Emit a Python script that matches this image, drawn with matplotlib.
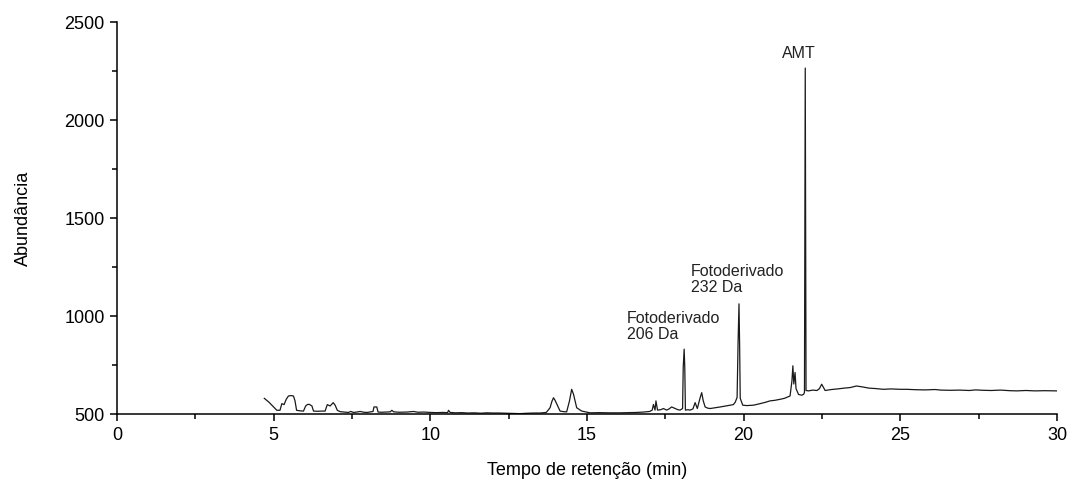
import matplotlib.pyplot as plt
from matplotlib.ticker import MultipleLocator

# chromatogram: retention time (min) and abundance
tempo = [
    4.70, 4.85, 5.00, 5.10, 5.20, 5.26, 5.33, 5.40, 5.47, 5.55, 5.63, 5.68, 5.73,
    5.85, 5.95, 6.02, 6.08, 6.14, 6.22, 6.27, 6.40, 6.55, 6.64, 6.71, 6.80, 6.90,
    6.96, 7.03, 7.12, 7.25, 7.38, 7.46, 7.55, 7.65, 7.76, 7.88, 7.98, 8.10, 8.17,
    8.20, 8.29, 8.33, 8.45, 8.60, 8.72, 8.77, 8.83, 9.00, 9.25, 9.46, 9.60, 9.80,
    9.99, 10.20, 10.40, 10.55, 10.58, 10.63, 10.80, 11.00, 11.20, 11.40, 11.60,
    11.80, 12.00, 12.20, 12.40, 12.60, 12.86, 13.10, 13.30, 13.50, 13.70, 13.82,
    13.88, 13.93, 13.98, 14.04, 14.14, 14.25, 14.35, 14.44, 14.51, 14.57, 14.67,
    14.83, 15.10, 15.40, 15.70, 16.05, 16.30, 16.59, 16.80, 17.00, 17.08, 17.12,
    17.17, 17.20, 17.25, 17.35, 17.44, 17.54, 17.62, 17.70, 17.81, 17.90, 17.97,
    18.05, 18.07, 18.10, 18.12, 18.14, 18.22, 18.29, 18.38, 18.45, 18.52, 18.61,
    18.66, 18.71, 18.77, 18.85, 18.93, 19.10, 19.25, 19.40, 19.57, 19.67, 19.73,
    19.79, 19.82, 19.85, 19.87, 19.89, 19.97, 20.10, 20.31, 20.50, 20.70, 20.84,
    21.00, 21.16, 21.30, 21.48, 21.54, 21.57, 21.60, 21.64, 21.67, 21.75, 21.85,
    21.91, 21.94, 21.955, 21.965, 21.975, 21.99, 22.07, 22.20, 22.34, 22.42, 22.49,
    22.60, 22.80, 23.00, 23.20, 23.40, 23.60, 23.80, 24.00, 24.20, 24.46, 24.70,
    25.00, 25.20, 25.50, 25.80, 26.10, 26.30, 26.59, 26.90, 27.20, 27.40, 27.65,
    27.90, 28.20, 28.50, 28.72, 29.00, 29.30, 29.60, 29.99,
]
abundancia = [
    580, 560, 535, 519, 519, 553, 548, 575, 592, 594, 592, 567, 519,
    516, 515, 541, 549, 549, 541, 515, 514, 515, 515, 548, 541, 558,
    545, 519, 512, 510, 508, 513, 508, 510, 513, 509, 508, 511, 513,
    536, 536, 510, 509, 510, 511, 519, 511, 509, 510, 513, 509, 510,
    508, 507, 508, 507, 519, 508, 506, 507, 505, 506, 504, 506, 505,
    505, 504, 503, 502, 504, 505, 505, 508, 532,
    565, 583, 570, 549, 515, 512, 511, 567, 626, 600, 532,
    515, 506, 507, 506, 506, 507, 508, 510, 513, 520, 549,
    520, 567, 520, 522, 528, 520, 526, 536, 528, 522, 520,
    528, 737, 831, 737, 520, 522, 520, 526, 558, 528, 583,
    609, 567, 536, 530, 528, 532, 536, 540, 545, 548, 560,
    585, 857, 1062, 857, 580, 545, 543, 545, 552, 560, 567,
    570, 575, 580, 592, 669, 746, 653, 712, 630, 600, 596,
    600, 610, 1670, 2265, 1600, 620, 618, 622, 620, 630, 652,
    620, 625, 628, 632, 635, 643, 638, 632, 630, 626, 628,
    626, 626, 624, 623, 625, 622, 621, 622, 620, 623, 621,
    620, 622, 619, 618, 620, 618, 619, 618,
]

# peak annotations: label, time (left/centre), abundance (bottom of text)
rotulos = ['Fotoderivado\n206 Da', 'Fotoderivado\n232 Da', 'AMT']
rot_x = [16.27, 18.31, 21.75]
rot_y = [865, 1105, 2300]

plt.rcParams['font.family'] = 'Liberation Sans'

fig = plt.figure(figsize=(10.68, 4.84), dpi=100)
ax = fig.add_axes([0.1096, 0.1446, 0.8801, 0.8099])

ax.plot(tempo, abundancia, color='#1a1a1a', linewidth=0.9)

ax.text(rot_x[0], rot_y[0], rotulos[0], ha='left', va='bottom', fontsize=11.5,
        color='#222222', linespacing=1.15)
ax.text(rot_x[1], rot_y[1], rotulos[1], ha='left', va='bottom', fontsize=11.5,
        color='#222222', linespacing=1.15)
ax.text(rot_x[2], rot_y[2], rotulos[2], ha='center', va='bottom', fontsize=11.5,
        color='#222222')

ax.set_xlim(0, 30)
ax.set_ylim(500, 2500)
ax.xaxis.set_major_locator(MultipleLocator(5))
ax.xaxis.set_minor_locator(MultipleLocator(2.5))
ax.yaxis.set_major_locator(MultipleLocator(500))
ax.yaxis.set_minor_locator(MultipleLocator(250))

ax.spines['top'].set_visible(False)
ax.spines['right'].set_visible(False)
ax.spines['left'].set_linewidth(1.1)
ax.spines['bottom'].set_linewidth(1.1)
ax.tick_params(which='major', direction='out', length=5, width=1.1, labelsize=13, pad=4)
ax.tick_params(which='minor', direction='out', length=3.5, width=1.1)

ax.set_xlabel('Tempo de retenção (min)', fontsize=13, labelpad=13)
ax.set_ylabel('Abundância', fontsize=13, labelpad=23)

fig.savefig('out.png', dpi=100)
